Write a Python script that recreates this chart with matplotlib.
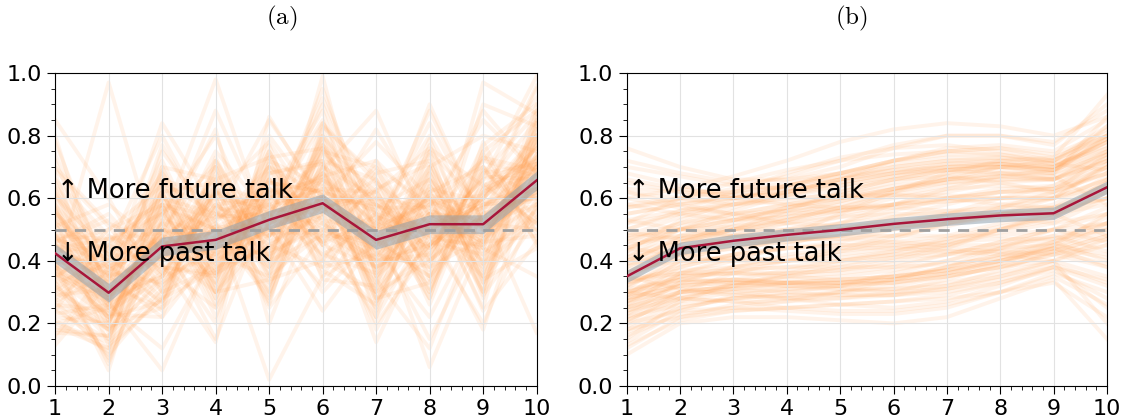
import numpy as np
import matplotlib
matplotlib.use('Agg')
import matplotlib.pyplot as plt
from matplotlib.ticker import AutoMinorLocator

plt.rcParams['mathtext.fontset'] = 'cm'

# Data (values in percent, read / estimated from the figure)
steps = [1, 2, 3, 4, 5, 6, 7, 8, 9, 10]

# (a) per-item trajectories, jagged
lines_a = [
    [38, 22, 50, 41, 60, 72, 39, 55, 48, 70],
    [55, 35, 40, 62, 48, 66, 52, 44, 60, 78],
    [30, 18, 33, 45, 58, 50, 41, 62, 39, 59],
    [47, 41, 61, 38, 44, 80, 55, 48, 66, 72],
    [25, 12, 28, 52, 70, 61, 30, 40, 55, 63],
    [62, 28, 55, 70, 35, 49, 63, 71, 44, 85],
    [35, 45, 38, 25, 52, 68, 48, 33, 58, 60],
    [43, 20, 65, 55, 62, 42, 36, 58, 72, 67],
    [51, 38, 27, 48, 41, 75, 58, 50, 35, 55],
    [20, 25, 47, 35, 66, 55, 44, 66, 50, 74],
    [70, 52, 44, 60, 57, 63, 28, 45, 62, 68],
    [33, 15, 52, 30, 48, 70, 60, 38, 47, 58],
    [45, 33, 70, 66, 38, 58, 50, 75, 57, 80],
    [58, 27, 35, 42, 75, 45, 38, 55, 40, 62],
    [28, 40, 58, 50, 30, 83, 67, 42, 68, 71],
    [40, 22, 42, 75, 55, 52, 33, 60, 52, 50],
    [85, 60, 30, 38, 62, 66, 55, 28, 75, 88],
    [37, 8, 48, 58, 45, 38, 42, 68, 33, 57],
    [50, 30, 62, 28, 68, 72, 22, 52, 60, 76],
    [15, 35, 22, 44, 50, 60, 58, 47, 45, 65],
    [48, 47, 55, 80, 40, 48, 47, 35, 56, 82],
    [32, 18, 38, 36, 60, 88, 35, 62, 70, 60],
    [60, 25, 75, 52, 33, 55, 70, 58, 42, 72],
    [42, 38, 45, 20, 72, 64, 40, 45, 64, 52],
    [27, 10, 30, 62, 55, 42, 52, 80, 50, 68],
    [53, 42, 68, 46, 48, 78, 30, 50, 38, 90],
    [36, 28, 50, 33, 80, 57, 62, 40, 58, 63],
    [46, 55, 36, 70, 43, 50, 45, 70, 80, 75],
    [22, 20, 57, 50, 28, 68, 37, 55, 46, 48],
    [65, 32, 25, 40, 65, 62, 56, 30, 63, 70],
    [39, 5, 60, 55, 52, 95, 49, 60, 30, 79],
    [44, 36, 48, 15, 58, 46, 65, 52, 55, 61],
    [57, 24, 40, 64, 36, 70, 27, 45, 67, 66],
    [31, 44, 80, 48, 63, 53, 50, 88, 52, 58],
    [48, 29, 35, 58, 47, 65, 42, 38, 90, 83],
    [18, 16, 53, 36, 73, 40, 60, 57, 43, 54],
    [74, 37, 46, 88, 50, 76, 53, 63, 59, 95],
    [41, 26, 12, 43, 40, 58, 18, 48, 48, 64],
    [34, 50, 58, 54, 85, 60, 46, 35, 62, 73],
    [52, 21, 43, 30, 55, 84, 57, 66, 35, 69],
    [29, 31, 66, 60, 25, 48, 40, 42, 70, 46],
    [45, 40, 32, 47, 60, 67, 72, 55, 53, 77],
    [68, 23, 50, 72, 46, 54, 34, 12, 57, 60],
    [38, 33, 57, 40, 68, 71, 50, 60, 25, 84],
    [24, 48, 40, 52, 2, 35, 45, 52, 49, 67],
    [49, 19, 62, 65, 58, 63, 62, 76, 64, 71],
    [36, 97, 38, 35, 52, 58, 38, 46, 42, 56],
    [56, 34, 84, 56, 42, 77, 51, 58, 61, 80],
    [42, 27, 5, 45, 70, 45, 55, 40, 54, 62],
    [33, 39, 52, 98, 48, 60, 43, 64, 46, 74],
    [47, 17, 42, 50, 38, 99, 35, 50, 58, 59],
    [61, 42, 56, 32, 63, 56, 66, 35, 97, 87],
    [26, 24, 34, 54, 55, 30, 48, 56, 51, 65],
    [43, 45, 60, 42, 35, 69, 88, 49, 66, 99],
    [37, 29, 47, 61, 78, 52, 40, 70, 39, 53],
    [54, 13, 28, 37, 51, 74, 58, 44, 60, 76],
    [13, 33, 44, 67, 44, 61, 31, 53, 73, 69],
    [45, 50, 64, 44, 66, 48, 54, 6, 47, 63],
    [80, 26, 36, 57, 54, 66, 46, 61, 56, 17],
    [40, 36, 55, 39, 59, 57, 60, 48, 44, 72],
    [62, 44, 28, 63, 35, 77, 62, 37, 70, 50],
    [24, 15, 63, 32, 70, 40, 30, 68, 36, 82],
    [55, 42, 26, 68, 38, 84, 65, 30, 74, 47],
    [19, 12, 66, 28, 74, 37, 26, 74, 33, 86],
    [66, 48, 35, 60, 30, 72, 66, 40, 69, 54],
    [28, 18, 60, 26, 66, 44, 25, 64, 30, 88],
    [58, 39, 24, 72, 41, 80, 60, 28, 78, 45],
    [21, 11, 70, 35, 77, 34, 32, 77, 40, 78],
    [69, 51, 30, 57, 27, 75, 70, 34, 65, 52],
    [31, 20, 58, 22, 64, 47, 22, 70, 28, 84],
    [48, 37, 67, 30, 34, 40, 68, 72, 31, 80],
    [36, 23, 22, 66, 73, 76, 28, 33, 75, 49],
    [64, 46, 58, 25, 68, 35, 63, 26, 68, 87],
    [20, 14, 31, 64, 29, 82, 33, 75, 29, 53],
    [52, 40, 72, 37, 75, 45, 72, 41, 77, 90],
    [26, 19, 25, 70, 32, 67, 24, 66, 34, 44],
    [60, 43, 62, 30, 62, 38, 58, 31, 63, 85],
    [17, 16, 35, 62, 26, 79, 36, 79, 37, 57],
    [56, 34, 69, 33, 71, 50, 69, 45, 72, 92],
    [34, 22, 27, 73, 40, 71, 27, 62, 24, 46],
    [72, 30, 47, 54, 58, 85, 40, 56, 50, 64],
    [16, 38, 48, 40, 50, 32, 56, 50, 57, 70],
    [46, 53, 36, 58, 60, 60, 78, 60, 44, 35],
    [33, 9, 55, 36, 45, 55, 20, 44, 60, 96],
    [78, 35, 41, 50, 56, 68, 51, 84, 52, 61],
    [23, 26, 52, 44, 49, 49, 44, 22, 55, 76],
    [51, 58, 44, 53, 65, 62, 57, 57, 85, 68],
    [40, 7, 50, 45, 42, 52, 38, 48, 20, 58],
    [63, 28, 77, 49, 53, 90, 48, 59, 51, 73],
    [27, 36, 33, 51, 57, 46, 53, 45, 54, 67],
    [44, 47, 49, 82, 20, 64, 42, 53, 48, 71],
    [38, 25, 39, 14, 86, 58, 50, 51, 59, 63],
    [57, 21, 53, 48, 51, 24, 47, 55, 46, 79],
    [30, 41, 46, 43, 54, 92, 54, 49, 53, 62],
    [48, 30, 42, 55, 48, 55, 82, 54, 45, 74],
    [35, 27, 50, 47, 55, 61, 14, 50, 58, 65],
    [54, 32, 45, 51, 50, 59, 45, 90, 52, 70],
    [41, 29, 48, 42, 56, 57, 48, 15, 49, 62],
    [45, 31, 43, 50, 52, 60, 50, 53, 88, 68],
    [39, 28, 46, 46, 54, 56, 46, 51, 18, 71],
]

# (b) per-item trajectories, smooth
lines_b = [
    [35, 42, 46, 50, 54, 57, 59, 60, 60, 66],
    [20, 30, 36, 40, 43, 45, 47, 50, 53, 62],
    [55, 58, 60, 63, 66, 68, 69, 68, 66, 75],
    [28, 38, 42, 44, 45, 46, 48, 52, 55, 58],
    [42, 47, 50, 52, 55, 58, 62, 65, 66, 72],
    [15, 27, 33, 35, 36, 38, 42, 46, 50, 55],
    [65, 62, 60, 62, 66, 72, 76, 77, 75, 85],
    [32, 40, 41, 40, 40, 42, 45, 49, 52, 60],
    [38, 45, 50, 56, 62, 66, 67, 65, 62, 68],
    [25, 33, 34, 33, 32, 33, 36, 40, 45, 42],
    [48, 50, 51, 53, 56, 60, 63, 64, 63, 70],
    [30, 36, 40, 45, 50, 53, 54, 55, 56, 64],
    [72, 68, 65, 66, 70, 76, 80, 80, 77, 90],
    [22, 30, 30, 28, 26, 25, 27, 32, 38, 34],
    [40, 44, 45, 46, 48, 50, 52, 55, 58, 67],
    [36, 46, 52, 57, 60, 61, 60, 58, 57, 63],
    [18, 25, 28, 30, 32, 36, 40, 45, 48, 52],
    [58, 55, 53, 54, 56, 58, 59, 60, 61, 70],
    [45, 48, 48, 47, 47, 48, 51, 55, 60, 70],
    [27, 35, 38, 40, 42, 44, 46, 47, 47, 50],
    [33, 38, 42, 48, 55, 62, 66, 68, 67, 75],
    [12, 22, 26, 28, 30, 32, 35, 38, 40, 47],
    [62, 58, 55, 52, 51, 52, 55, 58, 60, 66],
    [38, 44, 47, 49, 50, 51, 52, 54, 57, 62],
    [29, 35, 36, 36, 37, 40, 44, 50, 56, 60],
    [50, 56, 62, 68, 73, 76, 77, 75, 72, 80],
    [24, 28, 27, 25, 24, 24, 26, 30, 35, 26],
    [43, 50, 54, 56, 57, 57, 56, 55, 55, 60],
    [34, 37, 38, 40, 43, 47, 52, 57, 60, 71],
    [68, 64, 60, 58, 57, 58, 60, 62, 62, 68],
    [31, 42, 48, 52, 54, 55, 55, 54, 52, 55],
    [20, 24, 25, 27, 30, 34, 38, 42, 44, 38],
    [47, 52, 55, 58, 60, 63, 66, 70, 72, 83],
    [37, 40, 40, 40, 41, 43, 46, 50, 54, 66],
    [26, 36, 41, 44, 45, 45, 44, 43, 42, 45],
    [53, 50, 48, 49, 52, 56, 60, 63, 64, 72],
    [40, 46, 50, 53, 57, 62, 68, 72, 73, 80],
    [16, 23, 25, 24, 23, 23, 25, 30, 36, 30],
    [44, 42, 40, 41, 44, 48, 52, 55, 57, 65],
    [33, 44, 48, 50, 52, 54, 56, 57, 57, 60],
    [76, 70, 66, 66, 68, 72, 75, 76, 73, 93],
    [28, 32, 34, 37, 40, 42, 43, 44, 45, 55],
    [36, 41, 44, 47, 52, 58, 63, 67, 69, 78],
    [23, 33, 38, 42, 44, 44, 43, 42, 40, 20],
    [46, 48, 50, 50, 50, 51, 53, 57, 62, 74],
    [30, 34, 33, 32, 32, 34, 38, 44, 50, 57],
    [57, 60, 63, 67, 72, 77, 80, 80, 78, 88],
    [35, 43, 46, 47, 48, 48, 48, 48, 50, 52],
    [10, 20, 22, 22, 21, 20, 22, 28, 34, 15],
    [41, 46, 50, 54, 58, 62, 65, 67, 67, 58],
    [25, 30, 32, 35, 38, 41, 45, 50, 55, 65],
    [49, 47, 46, 47, 50, 54, 58, 62, 63, 68],
    [32, 39, 42, 44, 46, 50, 53, 55, 55, 48],
    [60, 63, 67, 72, 78, 82, 84, 83, 80, 86],
    [21, 28, 32, 36, 39, 41, 42, 43, 46, 40],
    [39, 42, 44, 46, 48, 51, 55, 60, 64, 73],
    [34, 36, 37, 38, 40, 43, 47, 51, 54, 62],
    [52, 55, 58, 60, 61, 61, 61, 60, 60, 64],
    [29, 40, 45, 47, 47, 46, 45, 45, 47, 52],
    [44, 50, 53, 55, 56, 58, 60, 62, 63, 71],
    [46, 52, 57, 62, 66, 70, 72, 72, 70, 78],
    [22, 26, 28, 29, 30, 31, 33, 36, 40, 35],
    [58, 60, 62, 65, 68, 72, 74, 74, 72, 80],
    [26, 32, 33, 33, 33, 34, 36, 39, 43, 48],
    [50, 55, 60, 64, 67, 69, 70, 70, 68, 74],
    [14, 24, 29, 31, 32, 33, 35, 38, 42, 38],
    [63, 62, 62, 64, 67, 70, 72, 73, 72, 82],
    [30, 35, 36, 36, 37, 39, 42, 46, 50, 46],
    [41, 50, 56, 61, 65, 68, 70, 71, 70, 77],
    [19, 27, 30, 31, 31, 30, 31, 34, 38, 32],
    [53, 56, 58, 61, 64, 67, 69, 70, 69, 76],
    [27, 31, 31, 30, 29, 29, 31, 35, 40, 45],
    [70, 67, 64, 63, 64, 67, 70, 71, 69, 79],
    [33, 36, 36, 35, 34, 35, 37, 41, 46, 54],
    [44, 51, 55, 58, 61, 64, 66, 67, 66, 72],
    [23, 29, 31, 32, 33, 35, 38, 42, 46, 50],
    [60, 57, 55, 56, 59, 63, 67, 70, 70, 79],
    [29, 33, 34, 34, 35, 37, 40, 44, 48, 43],
    [48, 54, 58, 62, 66, 69, 71, 71, 69, 75],
    [17, 25, 28, 29, 29, 29, 30, 33, 37, 28],
    [39, 48, 53, 57, 60, 63, 65, 66, 66, 73],
    [25, 30, 32, 33, 34, 35, 37, 40, 44, 49],
    [55, 58, 61, 64, 68, 72, 75, 76, 74, 81],
    [31, 34, 34, 33, 33, 34, 36, 40, 44, 51],
    [66, 63, 61, 61, 63, 66, 69, 71, 70, 78],
    [21, 28, 31, 33, 34, 35, 37, 40, 43, 39],
    [43, 53, 59, 64, 68, 71, 73, 73, 71, 76],
    [28, 32, 33, 33, 33, 33, 35, 38, 42, 47],
    [57, 59, 60, 62, 65, 68, 71, 72, 71, 79],
    [24, 30, 32, 32, 31, 31, 32, 35, 39, 33],
    [36, 44, 49, 53, 57, 61, 64, 66, 66, 74],
    [30, 28, 27, 27, 28, 30, 34, 39, 45, 52],
    [52, 60, 65, 69, 72, 74, 75, 74, 71, 69],
    [13, 21, 24, 25, 26, 27, 29, 33, 38, 25],
    [62, 60, 58, 59, 62, 66, 69, 70, 69, 83],
    [27, 34, 37, 38, 38, 38, 39, 41, 44, 41],
    [47, 50, 53, 57, 61, 65, 68, 69, 68, 80],
    [35, 31, 29, 28, 28, 29, 32, 37, 43, 48],
    [40, 47, 51, 55, 59, 63, 66, 68, 68, 86],
    [18, 22, 24, 25, 26, 27, 28, 30, 33, 22],
]

# mean lines and band half-widths
mean_a = [0.424, 0.298, 0.446, 0.467, 0.531, 0.584, 0.467, 0.517, 0.517, 0.657]
band_a = [0.030, 0.030, 0.030, 0.030, 0.030, 0.030, 0.030, 0.030, 0.030, 0.030]
mean_b = [0.350, 0.440, 0.464, 0.483, 0.499, 0.518, 0.533, 0.545, 0.552, 0.635]
band_b = [0.020, 0.020, 0.020, 0.020, 0.020, 0.020, 0.020, 0.020, 0.020, 0.020]

fig = plt.figure(figsize=(11.25, 4.2), dpi=100)
ax_a = fig.add_axes([0.049, 0.081, 0.428, 0.745])
ax_b = fig.add_axes([0.557, 0.081, 0.427, 0.745])


def draw_panel(ax, lines, mean, band):
    x = np.array(steps)
    for ln in lines:
        ax.plot(x, np.array(ln) / 100.0, color='#ff9a45', alpha=0.11,
                linewidth=2.8, zorder=1)
    mean = np.array(mean)
    band = np.array(band)
    ax.fill_between(x, mean - band, mean + band, color='#92a3b0',
                    alpha=0.55, linewidth=0, zorder=2)
    ax.plot(x, mean, color='#a8163a', linewidth=1.8, zorder=4)
    ax.axhline(0.5, color='#a0a0a0', linestyle='--', linewidth=2,
               dashes=(4, 3), zorder=3)
    ax.text(1.03, 0.6, '↑ More future talk', fontsize=18.5, va='baseline',
            zorder=5)
    ax.text(1.03, 0.4, '↓ More past talk', fontsize=18.5, va='baseline',
            zorder=5)
    ax.set_xlim(1, 10)
    ax.set_ylim(0, 1)
    ax.set_xticks(steps)
    ax.set_yticks([0.0, 0.2, 0.4, 0.6, 0.8, 1.0])
    ax.xaxis.set_minor_locator(AutoMinorLocator())
    ax.yaxis.set_minor_locator(AutoMinorLocator())
    ax.tick_params(which='major', labelsize=16, length=6)
    ax.tick_params(which='minor', length=3)
    ax.grid(True, which='major', color='#e2e2e2', linewidth=0.8, zorder=0)


draw_panel(ax_a, lines_a, mean_a, band_a)
draw_panel(ax_b, lines_b, mean_b, band_b)

fig.text(0.25, 0.955, r'$\mathrm{(a)}$', fontsize=18, ha='center', va='center')
fig.text(0.757, 0.955, r'$\mathrm{(b)}$', fontsize=18, ha='center', va='center')

fig.savefig('out.png', dpi=100)
